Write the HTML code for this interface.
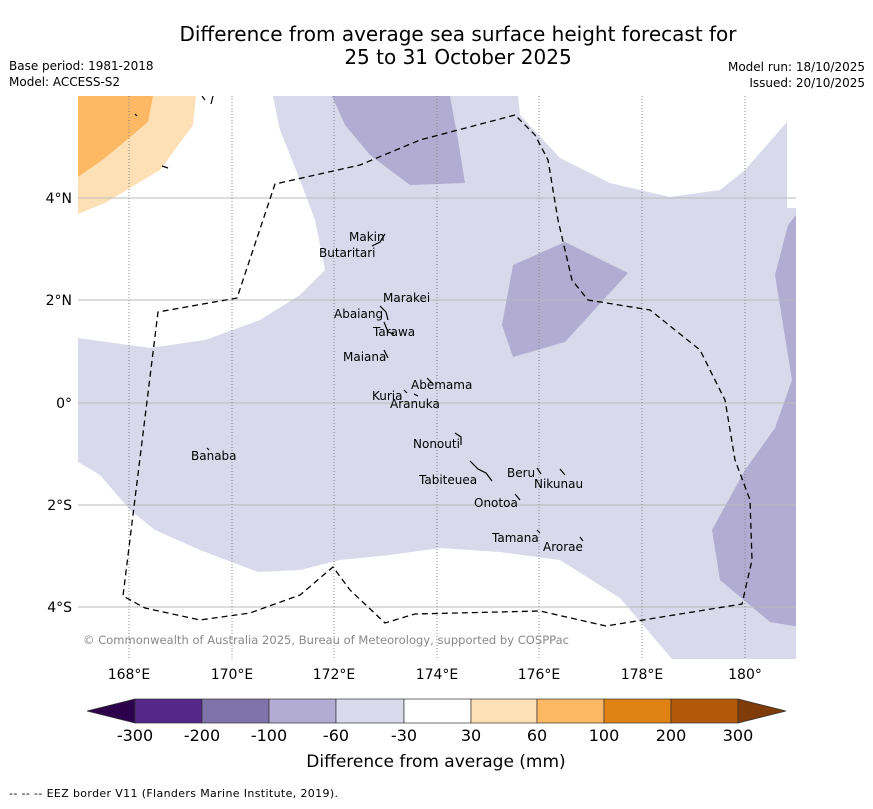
<!DOCTYPE html>
<html><head><meta charset="utf-8"><style>
body{margin:0;background:#fff;width:873px;height:804px;overflow:hidden;font-family:"Liberation Sans","DejaVu Sans",sans-serif}
svg text{font-family:"DejaVu Sans","Liberation Sans",sans-serif}
</style></head><body>
<svg width="873" height="804">
<text x="458" y="41" font-size="20" text-anchor="middle">Difference from average sea surface height forecast for</text>
<text x="458" y="64" font-size="20" text-anchor="middle">25 to 31 October 2025</text>
<text x="9" y="70" font-size="12">Base period: 1981-2018</text>
<text x="9" y="86" font-size="12">Model: ACCESS-S2</text>
<text x="865" y="71" font-size="12" text-anchor="end">Model run: 18/10/2025</text>
<text x="865" y="87" font-size="12" text-anchor="end">Issued: 20/10/2025</text>
<defs><clipPath id="mc"><rect x="78" y="96" width="718" height="563"/></clipPath></defs>
<g clip-path="url(#mc)">
<polygon fill="#d8daeb" points="273,96 280,130 300,180 315,220 325,270 300,295 260,320 205,340 150,348 78,338 78,462 100,475 130,510 155,530 200,550 258,572 300,570 340,560 390,555 440,548 500,552 560,560 620,598 672,659 796,659 796,96"/>
<polygon fill="#fff" points="518,96 520,115 560,158 610,183 670,197 720,190 745,170 787,122 787,96"/>
<rect fill="#fff" x="787" y="96" width="12" height="112"/>
<polygon fill="#b2abd2" points="332,96 345,125 370,155 410,185 465,183 458,140 450,96"/>
<polygon fill="#b2abd2" points="513,265 565,242 628,273 565,342 513,357 502,325"/>
<polygon fill="#b2abd2" points="800,210 788,225 775,275 792,380 775,428 745,470 712,530 720,580 770,622 800,627"/>
<polygon fill="#fee0b6" points="78,96 196,96 193,125 160,170 105,203 78,214"/>
<polygon fill="#fdb863" points="78,96 153,96 148,122 105,158 78,177"/>
<g stroke="#bbb" stroke-width="1">
<line x1="78" x2="796" y1="198" y2="198"/><line x1="78" x2="796" y1="300" y2="300"/><line x1="78" x2="796" y1="403" y2="403"/><line x1="78" x2="796" y1="505" y2="505"/><line x1="78" x2="796" y1="607" y2="607"/>
</g>
<g stroke="#888" stroke-width="1" stroke-dasharray="1,2">
<line x1="129" x2="129" y1="96" y2="659"/><line x1="232" x2="232" y1="96" y2="659"/><line x1="334" x2="334" y1="96" y2="659"/><line x1="437" x2="437" y1="96" y2="659"/><line x1="539" x2="539" y1="96" y2="659"/><line x1="642" x2="642" y1="96" y2="659"/><line x1="745" x2="745" y1="96" y2="659"/>
</g>
<polyline fill="none" stroke="#000" stroke-width="1.3" stroke-dasharray="6,4" points="515,115 420,140 360,165 275,184 237,298 158,312 123,596 145,608 200,620 250,613 300,595 333,567 350,590 385,623 415,614 540,611 606,626 742,604 752,560 750,500 735,460 725,400 700,350 650,310 588,300 572,280 558,220 548,160 535,135 515,115"/>
<g fill="none" stroke="#000" stroke-width="1.2">
<path d="M372,246 l8,-4 l5,-8"/><path d="M380,306 l6,6 l2,8"/><path d="M384,322 l4,10 l6,2"/><path d="M384,350 l4,8"/><path d="M427,378 l6,6"/><path d="M404,390 l3,3 M414,394 l4,2"/><path d="M455,433 l6,4 l0,8"/><path d="M470,461 l8,8 l8,4 l6,8"/><path d="M537,468 l4,6 M560,469 l5,6"/><path d="M515,494 l5,6"/><path d="M537,530 l3,3 M580,537 l3,4"/><path d="M207,448 l2,2"/><path d="M135,114 l2,2"/><path d="M202,96 l3,4 M213,96 l-2,8"/><path d="M162,166 l6,2"/>
</g>
<g font-size="12" fill="#000">
<text x="349" y="241">Makin</text><text x="319" y="257">Butaritari</text><text x="383" y="302">Marakei</text><text x="334" y="318">Abaiang</text><text x="373" y="336">Tarawa</text><text x="343" y="361">Maiana</text><text x="411" y="389">Abemama</text><text x="372" y="400">Kuria</text><text x="390" y="408">Aranuka</text><text x="413" y="448">Nonouti</text><text x="191" y="460">Banaba</text><text x="507" y="477">Beru</text><text x="534" y="488">Nikunau</text><text x="419" y="484">Tabiteuea</text><text x="474" y="507">Onotoa</text><text x="492" y="542">Tamana</text><text x="543" y="551">Arorae</text>
</g>
<text x="83" y="644" font-size="11.5" fill="#888" textLength="486">© Commonwealth of Australia 2025, Bureau of Meteorology, supported by COSPPac</text>
</g>
<g font-size="14" text-anchor="end">
<text x="72" y="203">4°N</text><text x="72" y="305">2°N</text><text x="72" y="408">0°</text><text x="72" y="510">2°S</text><text x="72" y="612">4°S</text>
</g>
<g font-size="14" text-anchor="middle">
<text x="129" y="679">168°E</text><text x="232" y="679">170°E</text><text x="334" y="679">172°E</text><text x="437" y="679">174°E</text><text x="539" y="679">176°E</text><text x="642" y="679">178°E</text><text x="745" y="679">180°</text>
</g>
<g stroke="#333" stroke-width="0.7">
<polygon points="135,699 87,711 135,723" fill="#2d004b"/>
<rect x="135" y="699" width="67" height="24" fill="#542788"/>
<rect x="202" y="699" width="67" height="24" fill="#8073ac"/>
<rect x="269" y="699" width="67" height="24" fill="#b2abd2"/>
<rect x="336" y="699" width="68" height="24" fill="#d8daeb"/>
<rect x="404" y="699" width="67" height="24" fill="#ffffff"/>
<rect x="471" y="699" width="66" height="24" fill="#fee0b6"/>
<rect x="537" y="699" width="67" height="24" fill="#fdb863"/>
<rect x="604" y="699" width="67" height="24" fill="#e08214"/>
<rect x="671" y="699" width="67" height="24" fill="#b35806"/>
<polygon points="738,699 786,711 738,723" fill="#7f3b08"/>
</g>
<g font-size="16" text-anchor="middle">
<text x="135" y="741">-300</text><text x="202" y="741">-200</text><text x="269" y="741">-100</text><text x="336" y="741">-60</text><text x="404" y="741">-30</text><text x="471" y="741">30</text><text x="537" y="741">60</text><text x="604" y="741">100</text><text x="671" y="741">200</text><text x="738" y="741">300</text>
</g>
<text x="436" y="767" font-size="17" text-anchor="middle">Difference from average (mm)</text>
<text x="9" y="797" font-size="11" textLength="329">--  --  -- EEZ border V11 (Flanders Marine Institute, 2019).</text>
</svg>
</body></html>
